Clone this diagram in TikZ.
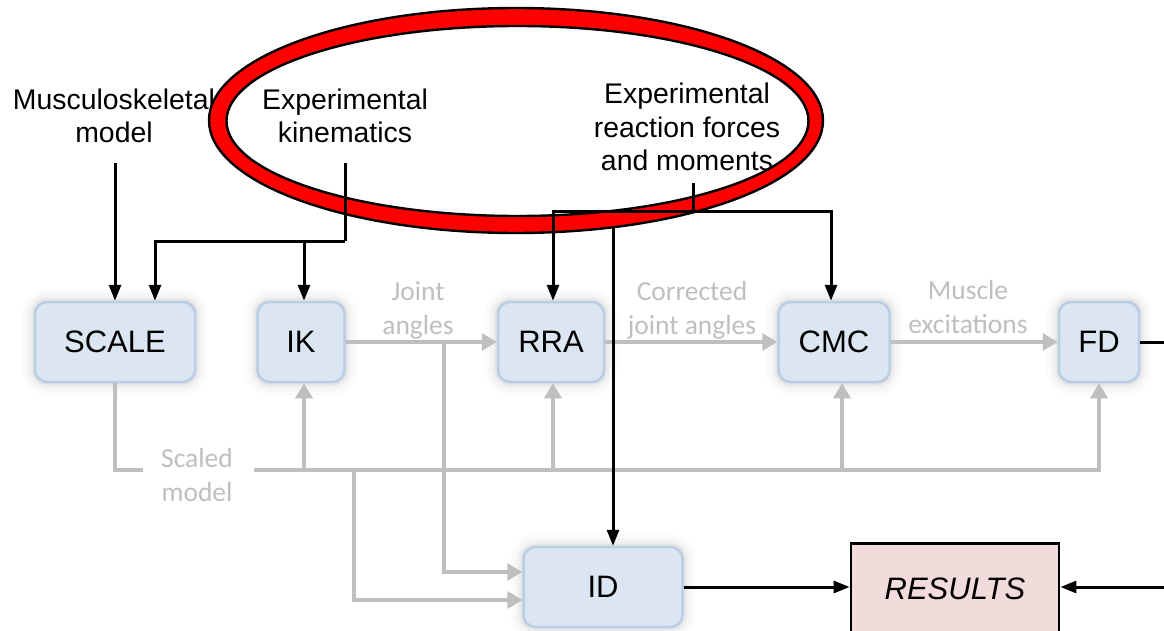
\documentclass[tikz,border=0pt]{standalone}
\usepackage{fontspec}
\setmainfont{Liberation Sans}
\newfontfamily\calfont{Carlito}
\usetikzlibrary{arrows.meta}

\definecolor{boxfill}{RGB}{220,230,242}
\definecolor{boxline}{RGB}{185,205,229}
\definecolor{flowgray}{RGB}{191,191,191}
\definecolor{resfill}{RGB}{242,220,219}
\definecolor{ringred}{RGB}{255,0,0}

\begin{document}
\begin{tikzpicture}[x=1pt,y=-1pt,
  proc/.style={draw=boxline, fill=boxfill, line width=2.5pt, rounded corners=12pt,
    minimum height=80pt, inner sep=0pt, font=\fontsize{31}{36}\selectfont,
    preaction={draw=black, draw opacity=0.015, line width=26pt},
    preaction={draw=black, draw opacity=0.02, line width=18pt},
    preaction={draw=black, draw opacity=0.03, line width=11pt},
    preaction={draw=black, draw opacity=0.04, line width=6pt}},
  resbox/.style={draw=black, fill=resfill, line width=2.8pt, inner sep=0pt,
    font=\fontsize{31}{36}\selectfont\itshape},
  lbl/.style={align=center, inner sep=0pt, font=\fontsize{28.4}{33.5}\selectfont},
  glbl/.style={align=center, inner sep=0pt, text=flowgray, font=\calfont\fontsize{27.5}{34}\selectfont},
  gline/.style={draw=flowgray, line width=3.2pt},
  gflow/.style={gline, -{Triangle[width=17pt,length=15pt]}},
  bline/.style={draw=black, line width=3pt},
  bflow/.style={bline, -{Triangle[width=12pt,length=16pt]}}
]
\useasboundingbox (0,0) rectangle (1164,631);
\clip (0,0) rectangle (1164,631);
\fill[white] (0,0) rectangle (1164,631);

% processing blocks
\node[proc, minimum width=160pt] (scale) at (115,342) {SCALE};
\node[proc, minimum width=87pt]  (ik)    at (301,342) {IK};
\node[proc, minimum width=106pt] (rra)   at (551,342) {RRA};
\node[proc, minimum width=111pt] (cmc)   at (834,342) {CMC};
\node[proc, minimum width=80pt]  (fd)    at (1099,342) {FD};
\node[proc, minimum width=159pt] (id)    at (603,587) {ID};
\node[resbox, minimum width=208pt, minimum height=96pt, anchor=north] (res) at (955,542) {\raisebox{6pt}{RESULTS}};

% inputs
\node[lbl] (msk) at (114,116) {Musculoskeletal\\model};
\node[lbl] (kin) at (345,116) {Experimental\\kinematics};
\node[lbl] (rf)  at (687,127) {Experimental\\reaction forces\\and moments};

% data labels
\node[glbl] (lja) at (418,310) {Joint\\angles};
\node[glbl] (lcj) at (692,310) {Corrected\\joint angles};
\node[glbl] (lme) at (968,307) {Muscle\\excitations};
\node[glbl] (lsm) at (197,475) {Scaled\\model};

% junctions
\coordinate (smL)  at (143,470);
\coordinate (smR)  at (254,470);
\coordinate (smD)  at (354,470);
\coordinate (jbr)  at (444,342);
\coordinate (kinj) at (345,241);
\coordinate (rftop) at (693,183);
\coordinate (rfj)  at (693,212);
\coordinate (idj)  at (613,212);
\coordinate (loopx) at (1190,587);

% grey data flow
\draw[gflow] (ik) -- (rra);
\draw[gflow] (rra) -- (cmc);
\draw[gflow] (cmc) -- (fd);
\draw[gflow] (jbr) |- ([yshift=15pt]id.west);
\draw[gline] (scale.south) |- (smL);
\draw[gflow] (smR) -| (fd.south);
\draw[gflow] ([xshift=3pt]ik.south |- smR) -- ([xshift=3pt]ik.south);
\draw[gflow] ([xshift=2pt]rra.south |- smR) -- ([xshift=2pt]rra.south);
\draw[gflow] ([xshift=8pt]cmc.south |- smR) -- ([xshift=8pt]cmc.south);
\draw[gflow] (smD) |- ([yshift=-13pt]id.west);

% reaction forces into ID (passes beneath the ring)
\draw[bflow] (idj) -- ([xshift=10pt]id.north);

% highlight ring
\fill[ringred, even odd rule]
  (516,120.5) ellipse [x radius=307pt, y radius=112.5pt]
  (517.5,121) ellipse [x radius=291pt, y radius=95pt];
\draw[black, line width=2.4pt] (516,120.5) ellipse [x radius=307pt, y radius=112.5pt];
\draw[black, line width=2.4pt] (517.5,121) ellipse [x radius=291pt, y radius=95pt];

% black input flow
\draw[bflow] ([yshift=-20pt]scale.north |- msk.south) -- (scale.north);
\draw[bline] ([yshift=-20pt]kin.south) -- (kinj);
\draw[bflow] (kinj) -| ([xshift=40pt]scale.north);
\draw[bflow] ([xshift=3pt]ik.north |- kinj) -- ([xshift=3pt]ik.north);
\draw[bline] (rftop) -- (rfj);
\draw[bflow] (rfj) -| ([xshift=2pt]rra.north);
\draw[bflow] (rfj) -| ([xshift=-3pt]cmc.north);

% results
\draw[bflow] (id) -- (id -| res.west);
\draw[bflow] (fd.east) -| (loopx) -- (loopx -| res.east);
\end{tikzpicture}
\end{document}
